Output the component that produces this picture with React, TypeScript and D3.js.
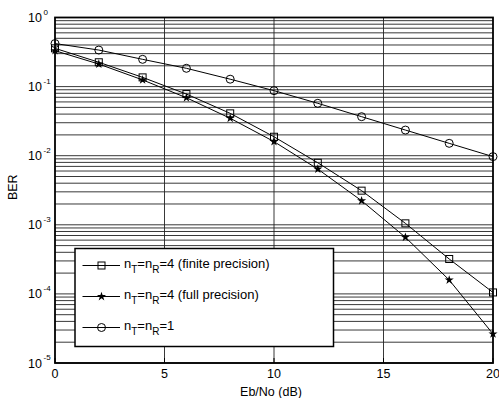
import React, { useEffect, useRef } from "react";
import * as d3 from "d3";

const ebno = [0, 2, 4, 6, 8, 10, 12, 14, 16, 18, 20];
const berFinite = [0.358, 0.225, 0.136, 0.078, 0.041, 0.0188, 0.0079, 0.00312, 0.00105, 0.00032, 0.000105];
const berFull = [0.331, 0.212, 0.125, 0.069, 0.0348, 0.016, 0.0064, 0.00223, 0.00066, 0.000159, 0.0000263];
const berSiso = [0.42, 0.338, 0.248, 0.184, 0.128, 0.0873, 0.0573, 0.0367, 0.0235, 0.0151, 0.0097];

const xTicks = [0, 5, 10, 15, 20];
const yExponents = [0, -1, -2, -3, -4, -5];

const FONT = "'Liberation Sans', Arial, sans-serif";

export default function App() {
  const ref = useRef<SVGSVGElement>(null);

  useEffect(() => {
    const svg = d3.select(ref.current);
    svg.selectAll("*").remove();

    const left = 55, right = 493, top = 17.5, bottom = 363;
    const x = d3.scaleLinear().domain([0, 20]).range([left, right]);
    const y = d3.scaleLog().domain([1e-5, 1]).range([bottom, top]);

    const grid = svg.append("g").attr("stroke", "#222").attr("stroke-width", 0.9);
    // log grid: decades + 2..9
    const gridVals: number[] = [];
    for (let e = -5; e < 0; e++) {
      for (let k = 1; k < 10; k++) gridVals.push(k * Math.pow(10, e));
    }
    grid.selectAll(".hy").data(gridVals).join("line")
      .attr("x1", left).attr("x2", right)
      .attr("y1", d => y(d)).attr("y2", d => y(d));
    grid.selectAll(".vx").data([5, 10, 15]).join("line")
      .attr("x1", d => x(d)).attr("x2", d => x(d))
      .attr("y1", top).attr("y2", bottom);

    const series = [
      { name: "finite", data: berFinite, marker: "square" },
      { name: "full", data: berFull, marker: "star" },
      { name: "siso", data: berSiso, marker: "circle" },
    ];

    const line = d3.line<number>().x((d, i) => x(ebno[i])).y(d => y(d));

    const drawMarker = (g: any, kind: string, cx: number, cy: number) => {
      if (kind === "square") {
        g.append("rect").attr("x", cx - 3.5).attr("y", cy - 3.5).attr("width", 7).attr("height", 7)
          .attr("fill", "none").attr("stroke", "#000").attr("stroke-width", 1);
      } else if (kind === "circle") {
        g.append("circle").attr("cx", cx).attr("cy", cy).attr("r", 4)
          .attr("fill", "none").attr("stroke", "#000").attr("stroke-width", 1);
      } else {
        g.append("path").attr("d", d3.symbol(d3.symbolStar, 26)()!)
          .attr("transform", `translate(${cx},${cy})`).attr("fill", "#000");
      }
    };

    const plot = svg.append("g");
    series.forEach(s => {
      plot.append("path").attr("d", line(s.data)!).attr("fill", "none")
        .attr("stroke", "#000").attr("stroke-width", 1);
      s.data.forEach((v, i) => drawMarker(plot, s.marker, x(ebno[i]), y(v)));
    });

    // legend
    const lg = svg.append("g");
    const lx = 75, ly = 248.5, lw = 258.5, lh = 98;
    lg.append("rect").attr("x", lx).attr("y", ly).attr("width", lw).attr("height", lh)
      .attr("fill", "#fff").attr("stroke", "#000").attr("stroke-width", 1.5);
    const rows = [
      { marker: "square", n: "4 (finite precision)" },
      { marker: "star", n: "4 (full precision)" },
      { marker: "circle", n: "1" },
    ];
    rows.forEach((r, i) => {
      const cy = 265.5 + i * 31;
      lg.append("line").attr("x1", 82.5).attr("x2", 120).attr("y1", cy).attr("y2", cy)
        .attr("stroke", "#000").attr("stroke-width", 1);
      drawMarker(lg, r.marker, 101.5, cy);
      const t = lg.append("text").attr("x", 124).attr("y", cy + 2.5)
        .attr("font-family", FONT).attr("font-size", 13).attr("fill", "#000");
      t.append("tspan").text("n");
      t.append("tspan").attr("dy", 5).attr("font-size", 10).text("T");
      t.append("tspan").attr("dy", -5).text("=n");
      t.append("tspan").attr("dy", 5).attr("font-size", 10).text("R");
      t.append("tspan").attr("dy", -5).text("=" + r.n);
    });

    // frame
    svg.append("rect").attr("x", left).attr("y", top).attr("width", right - left).attr("height", bottom - top)
      .attr("fill", "none").attr("stroke", "#000").attr("stroke-width", 1.8);

    // x ticks
    const xt = svg.append("g");
    xt.selectAll("line").data(xTicks).join("line")
      .attr("x1", d => x(d)).attr("x2", d => x(d)).attr("y1", bottom).attr("y2", bottom - 5)
      .attr("stroke", "#000").attr("stroke-width", 1);
    xt.selectAll("text").data(xTicks).join("text")
      .attr("x", d => x(d)).attr("y", bottom + 14.5).attr("text-anchor", "middle")
      .attr("font-family", FONT).attr("font-size", 12.5).text(d => d);

    // y ticks
    const yt = svg.append("g").attr("font-family", FONT);
    yExponents.forEach(e => {
      const yy = y(Math.pow(10, e));
      yt.append("text").attr("x", 42).attr("y", yy + 4.5).attr("text-anchor", "end")
        .attr("font-size", 12.5).text("10");
      yt.append("text").attr("x", 43.5).attr("y", yy - 3).attr("font-size", 8).text(String(e));
    });

    svg.append("text").attr("x", 271).attr("y", 396)
      .attr("text-anchor", "middle").attr("font-family", FONT).attr("font-size", 12.5)
      .text("Eb/No (dB)");
    svg.append("text").attr("transform", `translate(17,${(top + bottom) / 2 - 3}) rotate(-90)`)
      .attr("text-anchor", "middle").attr("font-family", FONT).attr("font-size", 12.5)
      .text("BER");
  }, []);

  return (
    <svg ref={ref} width={499} height={398}
      style={{ position: "absolute", left: 0, top: 0, background: "#fff" }} />
  );
}
